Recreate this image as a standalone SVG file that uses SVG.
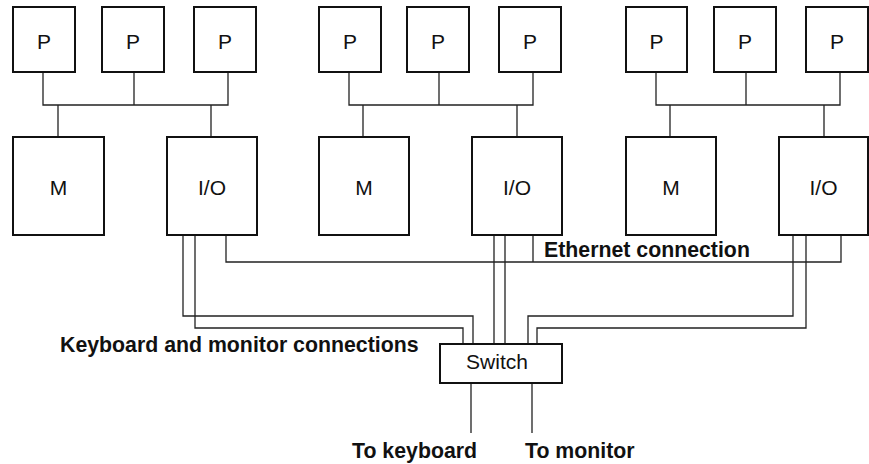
<svg xmlns="http://www.w3.org/2000/svg" width="869" height="464" viewBox="0 0 869 464">
<style>
.box{fill:#fff;stroke:#111;stroke-width:2}
.ln{fill:none;stroke:#222;stroke-width:1.3}
.t{font-family:"Liberation Sans",Arial,sans-serif;font-size:21px;fill:#111;text-anchor:middle}
.b{font-family:"Liberation Sans",Arial,sans-serif;font-size:21.3px;font-weight:bold;fill:#111}
</style>
<rect width="869" height="464" fill="#fff"/>
<g id="connectors" class="ln">
<path d="M43 72V105H228V72M134 72V105M58 105V137M211 105V137"/>
<path d="M349 72V105H533V72M439 72V105M363 105V137M517 105V137"/>
<path d="M656 72V105H840V72M746 72V105M670 105V137M824 105V137"/>
<path d="M226 235V262H841V235M533 235V262"/>
<path d="M183 235V316H473V344M195 235V328H463V344"/>
<path d="M494 235V344M505 235V344"/>
<path d="M793 235V316H528V344M806 235V328H537V344"/>
<path d="M471 383V433M532 383V433"/>
</g>
<g id="p1"><rect class="box" x="13" y="7" width="62" height="65"/><text class="t" x="44" y="49">P</text></g>
<g id="p2"><rect class="box" x="102" y="7" width="62" height="65"/><text class="t" x="133" y="49">P</text></g>
<g id="p3"><rect class="box" x="194" y="7" width="62" height="65"/><text class="t" x="225" y="49">P</text></g>
<g id="p4"><rect class="box" x="319" y="7" width="62" height="65"/><text class="t" x="350" y="49">P</text></g>
<g id="p5"><rect class="box" x="407" y="7" width="62" height="65"/><text class="t" x="438" y="49">P</text></g>
<g id="p6"><rect class="box" x="499" y="7" width="62" height="65"/><text class="t" x="530" y="49">P</text></g>
<g id="p7"><rect class="box" x="626" y="7" width="61" height="65"/><text class="t" x="656.5" y="49">P</text></g>
<g id="p8"><rect class="box" x="714" y="7" width="62" height="65"/><text class="t" x="745" y="49">P</text></g>
<g id="p9"><rect class="box" x="806" y="7" width="62" height="65"/><text class="t" x="837" y="49">P</text></g>
<g id="m1"><rect class="box" x="13" y="137" width="91" height="98"/><text class="t" x="58.5" y="195">M</text></g>
<g id="io1"><rect class="box" x="167" y="137" width="90" height="98"/><text class="t" x="212" y="195">I/O</text></g>
<g id="m2"><rect class="box" x="319" y="137" width="90" height="98"/><text class="t" x="364" y="195">M</text></g>
<g id="io2"><rect class="box" x="472" y="137" width="90" height="98"/><text class="t" x="517" y="195">I/O</text></g>
<g id="m3"><rect class="box" x="626" y="137" width="90" height="98"/><text class="t" x="671" y="195">M</text></g>
<g id="io3"><rect class="box" x="779" y="137" width="89" height="98"/><text class="t" x="823.5" y="195">I/O</text></g>
<g id="switch"><rect class="box" x="440" y="344" width="122" height="39"/><text class="t" x="497" y="369">Switch</text></g>
<g id="labels">
<text class="b" x="544" y="257">Ethernet connection</text>
<text class="b" x="60" y="352">Keyboard and monitor connections</text>
<text class="b" x="352" y="458">To keyboard</text>
<text class="b" x="525" y="458">To monitor</text>
</g>
</svg>
